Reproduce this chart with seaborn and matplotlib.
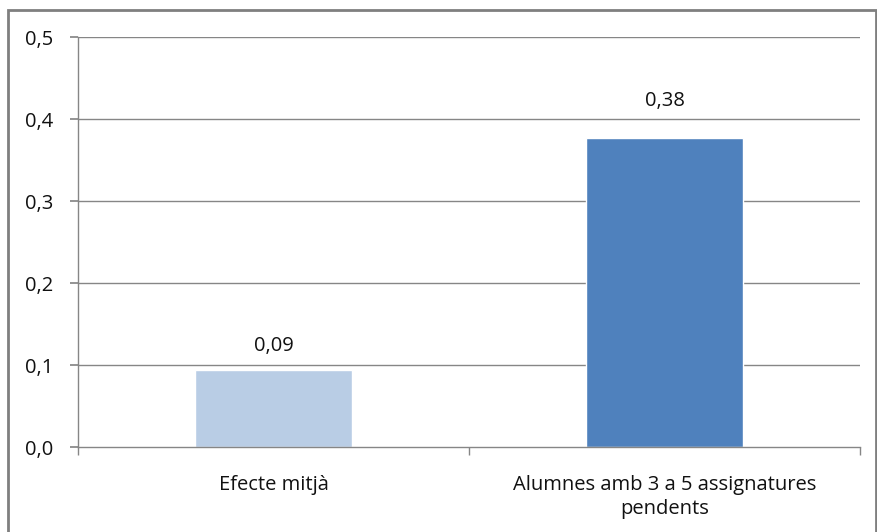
import matplotlib
matplotlib.use('Agg')
import matplotlib.pyplot as plt
from matplotlib.patches import Rectangle
from matplotlib.ticker import FixedLocator, FuncFormatter
import seaborn as sns
import pandas as pd

categories = ['Efecte mitjà', 'Alumnes amb 3 a 5 assignatures\npendents']
values = [0.094, 0.377]
labels = ['0,09', '0,38']
colors = ['#b9cde5', '#4f81bd']
yticks = [0.0, 0.1, 0.2, 0.3, 0.4, 0.5]

sns.set_theme(style='white')
plt.rcParams['font.family'] = ['Open Sans', 'DejaVu Sans']

df = pd.DataFrame({'cat': categories, 'val': values})

fig = plt.figure(figsize=(8.77, 5.32), dpi=100)
ax = fig.add_axes([78/877, 85/532, 782/877, 410/532])
sns.barplot(data=df, x='cat', y='val', hue='cat', palette=colors, width=0.4,
            legend=False, ax=ax, saturation=1)

grid_c = '#868686'
ax.set_ylim(0, 0.5)
ax.set_xlim(-0.5, len(categories) - 0.5)
ax.set_yticks(yticks)
ax.yaxis.set_major_formatter(FuncFormatter(lambda v, p: '{:.1f}'.format(v).replace('.', ',')))
for y in yticks[1:]:
    ax.axhline(y, color=grid_c, lw=1, zorder=0)

ax.set_xlabel('')
ax.set_ylabel('')
for s in ['top', 'right']:
    ax.spines[s].set_visible(False)
for s in ['left', 'bottom']:
    ax.spines[s].set_color(grid_c)
    ax.spines[s].set_linewidth(1)

ax.tick_params(axis='y', length=5.8, color=grid_c, labelsize=14.5, pad=12, left=True,
               labelcolor='#111111')
ax.tick_params(axis='x', which='major', length=0, labelsize=14.5, pad=20,
               labelcolor='#111111')
for t in ax.get_xticklabels():
    t.set_linespacing(1.25)
ax.xaxis.set_minor_locator(FixedLocator([-0.5, 0.5, 1.5]))
ax.tick_params(axis='x', which='minor', length=5.8, color=grid_c, bottom=True)

# label gaps as drawn by the original (in points)
pads = [10, 19]
for cont, t, p in zip(ax.containers, labels, pads):
    ax.bar_label(cont, labels=[t], padding=p, fontsize=14.5, color='#111111')

fig.patches.append(Rectangle((8/877, -0.05), 0.99, 1.05 - 10/532, transform=fig.transFigure,
                             fill=False, edgecolor='#7f7f7f', lw=2))

fig.savefig('out.png', dpi=100)
